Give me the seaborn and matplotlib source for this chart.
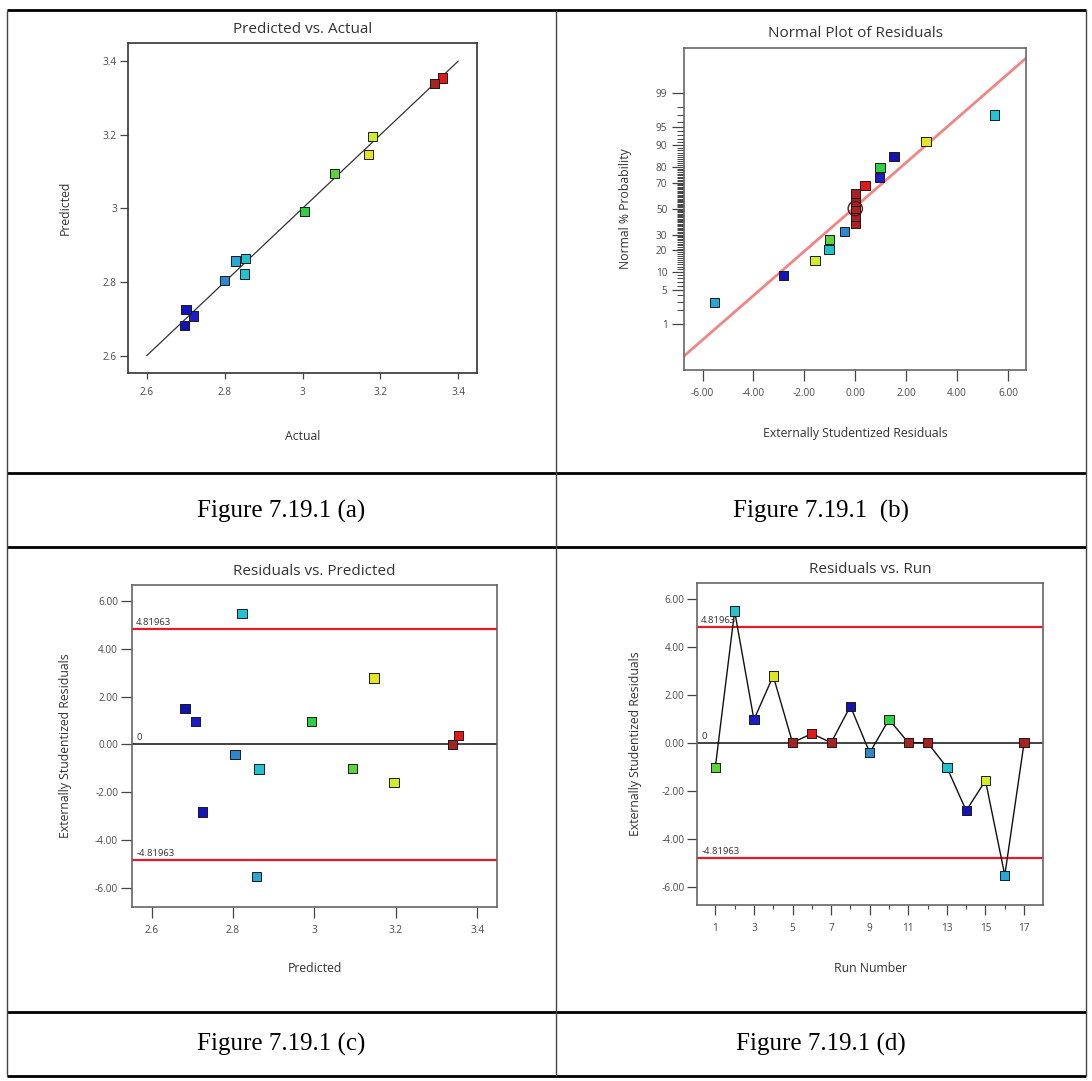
import numpy as np
import pandas as pd
import matplotlib
matplotlib.use("Agg")
import matplotlib.pyplot as plt
from matplotlib.lines import Line2D
from matplotlib.ticker import FixedLocator, FuncFormatter, FixedFormatter
from statistics import NormalDist
import seaborn as sns

# ---------------------------------------------------------------------------
# Diagnostics data for the 17 design runs
# ---------------------------------------------------------------------------
runs = list(range(1, 18))
actual = [3.083, 2.851, 2.721, 3.169, 3.339, 3.359, 3.339, 2.698, 2.800,
          3.005, 3.339, 3.339, 2.853, 2.701, 3.179, 2.828, 3.339]
predicted = [3.094, 2.822, 2.708, 3.146, 3.339, 3.354, 3.339, 2.682, 2.805,
             2.992, 3.339, 3.339, 2.864, 2.725, 3.195, 2.857, 3.339]
ext_resid = [-1.02, 5.48, 0.96, 2.78, 0.0, 0.38, 0.0, 1.52, -0.42,
             0.97, 0.0, 0.0, -1.03, -2.83, -1.58, -5.52, 0.0]

# point colour for each run (response level: blue = low ... red = high)
run_colors = ["#5fd43a", "#24c3d2", "#1c1cc8", "#e2e424", "#a82222", "#e01a1a",
              "#a82222", "#1212b4", "#2f86cf", "#2fce44", "#a82222", "#a82222",
              "#22c0cc", "#1414bc", "#d4ec22", "#2aa6d6", "#a82222"]

outlier_limit = 4.81963
normal_line_loc = -0.076
normal_line_scale = 2.237

prob_major = [1, 5, 10, 20, 30, 50, 70, 80, 90, 95, 99]
pred_ticks = [2.6, 2.8, 3.0, 3.2, 3.4]
resid_ticks = [-6, -4, -2, 0, 2, 4, 6]
run_major = list(range(1, 18, 2))
run_minor = list(range(2, 17, 2))

captions = ["Figure 7.19.1 (a)", "Figure 7.19.1  (b)",
            "Figure 7.19.1 (c)", "Figure 7.19.1 (d)"]

df = pd.DataFrame({"run": runs, "actual": actual, "predicted": predicted,
                   "resid": ext_resid})
df["key"] = df["run"].astype(str)
palette = {str(r): c for r, c in zip(runs, run_colors)}

# normal probability plotting positions
df_sorted = df.sort_values("resid", kind="stable").reset_index(drop=True)
n = len(df_sorted)
df_sorted["prob"] = (np.arange(1, n + 1) - 0.5) / n * 100.0

# ---------------------------------------------------------------------------
sns.set_theme(style="white")
plt.rcParams["font.family"] = ["Open Sans", "DejaVu Sans"]

W, H = 1092, 1081
fig = plt.figure(figsize=(W / 100, H / 100), dpi=100)
fig.patch.set_facecolor("white")

TICK_FS = 7.2
LABEL_FS = 8.8
TITLE_FS = 11


def px_axes(left, top, right, bottom):
    return fig.add_axes([left / W, 1 - bottom / H, (right - left) / W, (bottom - top) / H])


def style_axes(ax, spine_color="#666666"):
    for s in ax.spines.values():
        s.set_visible(True)
        s.set_color(spine_color)
        s.set_linewidth(1.2)
    ax.tick_params(axis="both", which="both", direction="out", colors="#444444",
                   labelsize=TICK_FS, width=0.9, labelcolor="#4a4a4a")
    ax.tick_params(axis="both", which="major", bottom=True, left=True, top=False, right=False)
    ax.grid(False)


def place_labels(ax, xlabel, ylabel, xoff, yoff):
    bb = ax.get_position()
    wpx, hpx = bb.width * W, bb.height * H
    ax.set_xlabel(xlabel, fontsize=LABEL_FS, color="#333333")
    ax.set_ylabel(ylabel, fontsize=LABEL_FS, color="#333333")
    ax.xaxis.set_label_coords(0.5, -xoff / hpx)
    ax.yaxis.set_label_coords(-yoff / wpx, 0.5)
    ax.xaxis.label.set_verticalalignment("center")
    ax.yaxis.label.set_verticalalignment("center")


def limit_lines(ax):
    ax.axhline(outlier_limit, color="#e61a2a", lw=1.6, zorder=1)
    ax.axhline(-outlier_limit, color="#e61a2a", lw=1.6, zorder=1)
    ax.axhline(0, color="#222222", lw=1.2, zorder=1)
    for v, t in [(outlier_limit, "4.81963"), (-outlier_limit, "-4.81963"), (0, "0")]:
        ax.annotate(t, xy=(0, v), xycoords=("axes fraction", "data"), xytext=(3, 1.5),
                    textcoords="offset points", ha="left", va="bottom",
                    fontsize=6.8, color="#333333")


marker_kw = dict(marker="s", s=44, edgecolor="#1a1a1a", linewidth=0.7,
                 legend=False, zorder=4)
fmt_g = FuncFormatter(lambda v, p: f"{v:g}")
fmt_2f = FuncFormatter(lambda v, p: f"{v:.2f}")

# ---------------- (a) Predicted vs. Actual ----------------
ax = px_axes(128, 43, 477, 373)
sns.lineplot(x=[pred_ticks[0], pred_ticks[-1]], y=[pred_ticks[0], pred_ticks[-1]],
             color="#333333", lw=0.9, ax=ax, zorder=2)
sns.scatterplot(data=df, x="actual", y="predicted", hue="key", palette=palette,
                ax=ax, **marker_kw)
ax.set_xlim(2.552, 3.448)
ax.set_ylim(2.553, 3.449)
ax.xaxis.set_major_locator(FixedLocator(pred_ticks))
ax.yaxis.set_major_locator(FixedLocator(pred_ticks))
ax.xaxis.set_major_formatter(fmt_g)
ax.yaxis.set_major_formatter(fmt_g)
style_axes(ax, "#333333")
ax.tick_params(axis="x", length=4, pad=6)
ax.tick_params(axis="y", length=6, pad=2)
ax.set_title("Predicted vs. Actual", fontsize=TITLE_FS, color="#333333", pad=7)
place_labels(ax, "Actual", "Predicted", 64, 63)

# ---------------- (b) Normal Plot of Residuals ----------------
_nd = NormalDist()


def probit(p):
    p = np.clip(np.asarray(p, dtype=float) / 100.0, 1e-12, 1 - 1e-12)
    return np.vectorize(_nd.inv_cdf, otypes=[float])(p)


def inv_probit(z):
    return np.vectorize(_nd.cdf, otypes=[float])(np.asarray(z, dtype=float)) * 100.0


ax = px_axes(684, 48, 1026, 370)
ax.set_yscale("function", functions=(probit, inv_probit))
fit = NormalDist(normal_line_loc, normal_line_scale)
xs = np.linspace(-6.73, 6.71, 200)
sns.lineplot(x=xs, y=[fit.cdf(v) * 100 for v in xs], color="#f08585", lw=2.0,
             ax=ax, zorder=2)
sns.scatterplot(data=df_sorted, x="resid", y="prob", hue="key", palette=palette,
                ax=ax, **marker_kw)
median_r = float(df_sorted["resid"].median())
ax.scatter([median_r], [50], s=105, facecolors="none", edgecolors="#5a1414",
           linewidths=1.0, zorder=5)
ax.set_xlim(-6.73, 6.71)
ax.set_ylim(0.0565, 99.94)
ax.xaxis.set_major_locator(FixedLocator(resid_ticks))
ax.xaxis.set_major_formatter(fmt_2f)
ax.yaxis.set_major_locator(FixedLocator(prob_major))
ax.yaxis.set_major_formatter(FixedFormatter([str(v) for v in prob_major]))
ax.yaxis.set_minor_locator(FixedLocator([v for v in range(2, 99) if v not in prob_major]))
ax.yaxis.set_minor_formatter(FuncFormatter(lambda v, p: ""))
style_axes(ax)
ax.tick_params(axis="x", length=8, pad=5)
ax.tick_params(axis="y", which="major", length=9, pad=3)
ax.tick_params(axis="y", which="minor", length=5, width=0.7, left=True, colors="#444444")
ax.set_title("Normal Plot of Residuals", fontsize=TITLE_FS, color="#333333", pad=8)
place_labels(ax, "Externally Studentized Residuals", "Normal % Probability", 63, 59)

# ---------------- (c) Residuals vs. Predicted ----------------
ax = px_axes(132, 585, 497, 907)
limit_lines(ax)
sns.scatterplot(data=df, x="predicted", y="resid", hue="key", palette=palette,
                ax=ax, **marker_kw)
ax.set_xlim(2.552, 3.448)
ax.set_ylim(-6.80, 6.67)
ax.xaxis.set_major_locator(FixedLocator(pred_ticks))
ax.xaxis.set_major_formatter(fmt_g)
ax.yaxis.set_major_locator(FixedLocator(resid_ticks))
ax.yaxis.set_major_formatter(fmt_2f)
style_axes(ax)
ax.tick_params(axis="x", length=8, pad=5)
ax.tick_params(axis="y", length=8, pad=2)
ax.set_title("Residuals vs. Predicted", fontsize=TITLE_FS, color="#333333", pad=7)
place_labels(ax, "Predicted", "Externally Studentized Residuals", 62, 67)

# ---------------- (d) Residuals vs. Run ----------------
ax = px_axes(697, 583, 1043, 905)
limit_lines(ax)
sns.lineplot(data=df, x="run", y="resid", color="#111111", lw=1.0, ax=ax, zorder=2)
sns.scatterplot(data=df, x="run", y="resid", hue="key", palette=palette,
                ax=ax, **marker_kw)
ax.set_xlim(0.05, 17.98)
ax.set_ylim(-6.76, 6.65)
ax.xaxis.set_major_locator(FixedLocator(run_major))
ax.xaxis.set_minor_locator(FixedLocator(run_minor))
ax.xaxis.set_major_formatter(FuncFormatter(lambda v, p: f"{int(v)}"))
ax.yaxis.set_major_locator(FixedLocator(resid_ticks))
ax.yaxis.set_major_formatter(fmt_2f)
style_axes(ax)
ax.tick_params(axis="x", which="major", length=7, pad=6)
ax.tick_params(axis="x", which="minor", length=3, bottom=True, width=0.8, colors="#444444")
ax.tick_params(axis="y", length=7, pad=2)
ax.set_title("Residuals vs. Run", fontsize=TITLE_FS, color="#333333", pad=7)
place_labels(ax, "Run Number", "Externally Studentized Residuals", 63, 62)

# ---------------------------------------------------------------------------
# Table frame and captions
# ---------------------------------------------------------------------------
def fig_line(x0, y0, x1, y1, color, lw):
    fig.add_artist(Line2D([x0 / W, x1 / W], [1 - y0 / H, 1 - y1 / H],
                          transform=fig.transFigure, color=color, lw=lw,
                          solid_capstyle="butt"))


left_x, mid_x, right_x = 7, 556, 1086
for y in [10, 473, 547, 1012, 1076]:
    fig_line(left_x, y, right_x, y, "black", 2.0)
for x in [left_x, mid_x, right_x]:
    fig_line(x, 10, x, 1076, "#444444", 1.0)

cap_pos = [(281.5, 511), (821, 511), (281.5, 1044), (821, 1044)]
for (cx, cy), text in zip(cap_pos, captions):
    fig.text(cx / W, 1 - cy / H, text, ha="center", va="center",
             family=["Liberation Serif", "DejaVu Serif"], fontsize=18, color="black")

fig.savefig("out.png", dpi=100, facecolor="white")
